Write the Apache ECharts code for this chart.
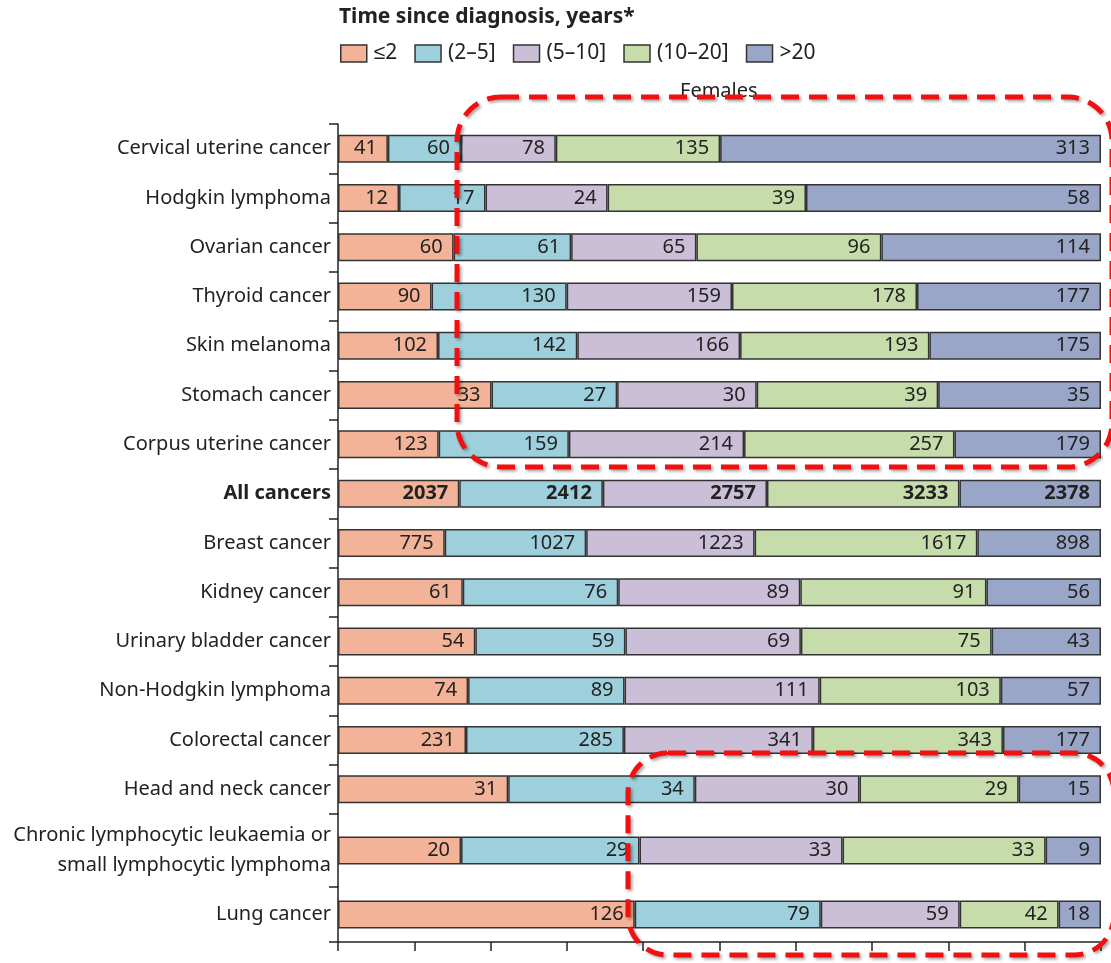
<!DOCTYPE html>
<html>
<head>
<meta charset="utf-8">
<script src="https://cdn.jsdelivr.net/npm/echarts@6/dist/echarts.min.js"></script>
<style>
  html, body { margin: 0; padding: 0; background: #fff; }
  #chart { width: 1111px; height: 963px; }
</style>
</head>
<body>
<div id="chart"></div>
<script>
// categories, top to bottom
const categories = [
  "Cervical uterine cancer", "Hodgkin lymphoma", "Ovarian cancer", "Thyroid cancer",
  "Skin melanoma", "Stomach cancer", "Corpus uterine cancer", "All cancers",
  "Breast cancer", "Kidney cancer", "Urinary bladder cancer", "Non-Hodgkin lymphoma",
  "Colorectal cancer", "Head and neck cancer",
  "Chronic lymphocytic leukaemia or\nsmall lymphocytic lymphoma", "Lung cancer"
];
const groupNames = ["≤2", "(2–5]", "(5–10]", "(10–20]", ">20"];
// counts per time group
const le2    = [41, 12, 60, 90, 102, 33, 123, 2037, 775, 61, 54, 74, 231, 31, 20, 126];
const y2to5  = [60, 17, 61, 130, 142, 27, 159, 2412, 1027, 76, 59, 89, 285, 34, 29, 79];
const y5to10 = [78, 24, 65, 159, 166, 30, 214, 2757, 1223, 89, 69, 111, 341, 30, 33, 59];
const y10to20 = [135, 39, 96, 178, 193, 39, 257, 3233, 1617, 91, 75, 103, 343, 29, 33, 42];
const gt20   = [313, 58, 114, 177, 175, 35, 179, 2378, 898, 56, 43, 57, 177, 15, 9, 18];
const xTicks = [0, 10, 20, 30, 40, 50, 60, 70, 80, 90, 100];

const colors = ["#f2b398", "#9dd0dc", "#cbbfd8", "#c7dcab", "#99a6c8"];
const counts = [le2, y2to5, y5to10, y10to20, gt20];
const totals = categories.map((c, i) => counts.reduce((s, arr) => s + arr[i], 0));

// rows are split over 3 grids (the CLL row is taller)
const parts = [[0, 14], [14, 15], [15, 16]];
const grids = [
  { left: 338, right: 10, top: 124, height: 690 },
  { left: 338, right: 10, top: 814, height: 73 },
  { left: 338, right: 10, top: 887, height: 55 }
];

const chart = echarts.init(document.getElementById("chart"));
const font = "'Noto Sans', sans-serif";

const xAxis = [], yAxis = [], series = [];
parts.forEach((p, gi) => {
  const last = gi === parts.length - 1;
  xAxis.push({
    gridIndex: gi, type: "value", min: xTicks[0], max: xTicks[xTicks.length - 1], interval: 10,
    axisLine: { show: last, lineStyle: { color: "#222", width: 1.5 } },
    axisTick: { show: last, length: 9, lineStyle: { color: "#222", width: 1.5 } },
    axisLabel: { show: false },
    splitLine: { show: false }
  });
  yAxis.push({
    gridIndex: gi, type: "category", inverse: true,
    data: categories.slice(p[0], p[1]),
    axisLine: { show: true, lineStyle: { color: "#222", width: 1.5 } },
    axisTick: { show: true, length: 9, lineStyle: { color: "#222", width: 1.5 } },
    axisLabel: {
      margin: 7, color: "#222", fontFamily: font, fontSize: 20, lineHeight: 30,
      formatter: v => v === "All cancers" ? "{b|" + v + "}" : v,
      rich: { b: { fontWeight: "bold", fontFamily: font, fontSize: 20, color: "#222" } }
    }
  });
  counts.forEach((arr, si) => {
    series.push({
      name: groupNames[si], type: "bar", stack: "g" + gi,
      xAxisIndex: gi, yAxisIndex: gi, barWidth: 28,
      itemStyle: { color: colors[si], borderColor: "#333", borderWidth: 1.5 },
      label: {
        show: true, position: "insideRight", distance: 11,
        color: "#222", fontFamily: font, fontSize: 20,
        formatter: prm => prm.data.count
      },
      data: arr.slice(p[0], p[1]).map((v, k) => {
        const idx = p[0] + k;
        const bold = categories[idx] === "All cancers";
        return {
          value: v / totals[idx] * 100, count: v,
          label: bold ? { fontWeight: "bold" } : undefined
        };
      })
    });
  });
});

chart.setOption({
  animation: false,
  backgroundColor: "#fff",
  color: colors,
  title: {
    text: "Time since diagnosis, years*", left: 334, top: 2,
    textStyle: { fontFamily: font, fontSize: 21, fontWeight: "bold", color: "#222" }
  },
  legend: {
    left: 335, top: 38, itemWidth: 26, itemHeight: 17, itemGap: 17,
    icon: "rect",
    itemStyle: { borderColor: "#333", borderWidth: 1.5 },
    textStyle: { fontFamily: font, fontSize: 21, color: "#222", padding: [0, 0, 0, 2] },
    data: groupNames
  },
  grid: grids,
  xAxis: xAxis,
  yAxis: yAxis,
  series: series,
  graphic: [
    {
      type: "text", left: 680, top: 81,
      style: { text: "Females", fontFamily: font, fontSize: 20, fill: "#222" }
    },
    {
      type: "rect", shape: { x: 457, y: 97, width: 655, height: 370, r: 44 },
      style: { fill: "none", stroke: "#f01010", lineWidth: 5, lineDash: [18, 10],
        shadowBlur: 3, shadowColor: "rgba(0,0,0,0.35)", shadowOffsetX: 2, shadowOffsetY: 2 },
      z: 100
    },
    {
      type: "rect", shape: { x: 628, y: 753, width: 486, height: 202, r: 40 },
      style: { fill: "none", stroke: "#f01010", lineWidth: 5, lineDash: [18, 10],
        shadowBlur: 3, shadowColor: "rgba(0,0,0,0.35)", shadowOffsetX: 2, shadowOffsetY: 2 },
      z: 100
    }
  ]
});
</script>
</body>
</html>
